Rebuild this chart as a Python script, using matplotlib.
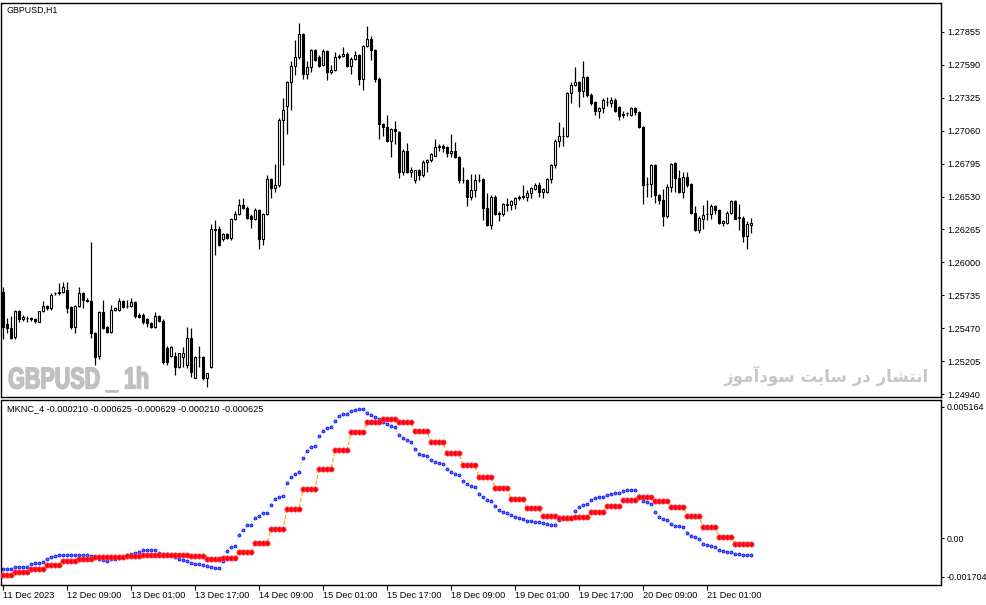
import numpy as np
import matplotlib.pyplot as plt
from matplotlib.patheffects import AbstractPathEffect
from matplotlib.transforms import Affine2D

plt.rcParams["font.family"] = ["Liberation Sans", "DejaVu Sans"]

# GBPUSD H1 bars
opens = [1.2576, 1.2550, 1.2547, 1.2540, 1.2561, 1.2554, 1.2555, 1.2555, 1.2554, 1.2552,
         1.2561, 1.2565, 1.2563, 1.2575, 1.2575, 1.2576, 1.2578, 1.2564, 1.2548, 1.2565,
         1.2575, 1.2570, 1.2569, 1.2543, 1.2525, 1.2560, 1.2548, 1.2544, 1.2562, 1.2562,
         1.2569, 1.2565, 1.2565, 1.2568, 1.2558, 1.2558, 1.2554, 1.2551, 1.2548, 1.2557,
         1.2553, 1.2531, 1.2525, 1.2525, 1.2516, 1.2524, 1.2517, 1.2539, 1.2507, 1.2524,
         1.2524, 1.2507, 1.2516, 1.2626, 1.2627, 1.2619, 1.2623, 1.2620, 1.2635, 1.2639,
         1.2646, 1.2644, 1.2637, 1.2635, 1.2642, 1.2619, 1.2639, 1.2667, 1.2660, 1.2662,
         1.2715, 1.2726, 1.2745, 1.2758, 1.2765, 1.2784, 1.2752, 1.2757, 1.2771, 1.2765,
         1.2759, 1.2770, 1.2753, 1.2755, 1.2765, 1.2766, 1.2768, 1.2758, 1.2764, 1.2767,
         1.2748, 1.2774, 1.2780, 1.2771, 1.2748, 1.2711, 1.2709, 1.2698, 1.2707, 1.2705,
         1.2673, 1.2690, 1.2673, 1.2666, 1.2674, 1.2670, 1.2681, 1.2682, 1.2686, 1.2693,
         1.2694, 1.2693, 1.2688, 1.2690, 1.2685, 1.2666, 1.2666, 1.2653, 1.2658, 1.2666,
         1.2667, 1.2644, 1.2630, 1.2653, 1.2640, 1.2639, 1.2646, 1.2646, 1.2647, 1.2652,
         1.2653, 1.2653, 1.2656, 1.2659, 1.2662, 1.2657, 1.2657, 1.2667, 1.2678, 1.2698,
         1.2702, 1.2702, 1.2736, 1.2743, 1.2745, 1.2738, 1.2749, 1.2735, 1.2729, 1.2722,
         1.2724, 1.2729, 1.2728, 1.2731, 1.2725, 1.2719, 1.2720, 1.2719, 1.2724, 1.2721,
         1.2709, 1.2663, 1.2663, 1.2678, 1.2654, 1.2650, 1.2637, 1.2661, 1.2680, 1.2668,
         1.2657, 1.2669, 1.2663, 1.2640, 1.2626, 1.2635, 1.2639, 1.2639, 1.2645, 1.2642,
         1.2632, 1.2632, 1.2640, 1.2649, 1.2636, 1.2636, 1.2621, 1.2630]
highs = [1.2580, 1.2555, 1.2557, 1.2562, 1.2562, 1.2558, 1.2557, 1.2556, 1.2555, 1.2561,
         1.2569, 1.2566, 1.2575, 1.2576, 1.2583, 1.2584, 1.2584, 1.2565, 1.2566, 1.2580,
         1.2576, 1.2571, 1.2616, 1.2544, 1.2561, 1.2570, 1.2549, 1.2566, 1.2564, 1.2571,
         1.2570, 1.2570, 1.2571, 1.2569, 1.2559, 1.2559, 1.2555, 1.2552, 1.2560, 1.2558,
         1.2554, 1.2533, 1.2533, 1.2528, 1.2527, 1.2532, 1.2548, 1.2547, 1.2525, 1.2533,
         1.2525, 1.2511, 1.2631, 1.2634, 1.2629, 1.2624, 1.2624, 1.2636, 1.2641, 1.2651,
         1.2652, 1.2645, 1.2639, 1.2644, 1.2643, 1.2640, 1.2670, 1.2668, 1.2679, 1.2716,
         1.2732, 1.2746, 1.2762, 1.2779, 1.2793, 1.2785, 1.2762, 1.2772, 1.2772, 1.2767,
         1.2772, 1.2771, 1.2759, 1.2769, 1.2768, 1.2773, 1.2769, 1.2765, 1.2770, 1.2768,
         1.2775, 1.2790, 1.2782, 1.2772, 1.2749, 1.2712, 1.2719, 1.2708, 1.2714, 1.2706,
         1.2691, 1.2696, 1.2677, 1.2674, 1.2675, 1.2682, 1.2683, 1.2688, 1.2699, 1.2695,
         1.2695, 1.2694, 1.2703, 1.2697, 1.2686, 1.2677, 1.2667, 1.2671, 1.2671, 1.2671,
         1.2668, 1.2656, 1.2654, 1.2654, 1.2641, 1.2648, 1.2652, 1.2650, 1.2653, 1.2654,
         1.2662, 1.2658, 1.2661, 1.2664, 1.2665, 1.2660, 1.2668, 1.2679, 1.2699, 1.2713,
         1.2709, 1.2737, 1.2745, 1.2757, 1.2746, 1.2762, 1.2750, 1.2736, 1.2730, 1.2725,
         1.2732, 1.2733, 1.2733, 1.2732, 1.2726, 1.2722, 1.2721, 1.2725, 1.2725, 1.2722,
         1.2710, 1.2669, 1.2679, 1.2679, 1.2655, 1.2659, 1.2663, 1.2680, 1.2681, 1.2674,
         1.2673, 1.2673, 1.2664, 1.2645, 1.2637, 1.2646, 1.2650, 1.2647, 1.2646, 1.2643,
         1.2634, 1.2641, 1.2650, 1.2650, 1.2647, 1.2637, 1.2633, 1.2636]
lows = [1.2538, 1.2543, 1.2538, 1.2538, 1.2552, 1.2553, 1.2552, 1.2553, 1.2551, 1.2552,
        1.2560, 1.2562, 1.2562, 1.2574, 1.2574, 1.2575, 1.2559, 1.2546, 1.2543, 1.2564,
        1.2563, 1.2568, 1.2539, 1.2517, 1.2522, 1.2546, 1.2543, 1.2543, 1.2561, 1.2561,
        1.2563, 1.2563, 1.2564, 1.2555, 1.2555, 1.2550, 1.2548, 1.2547, 1.2547, 1.2552,
        1.2518, 1.2517, 1.2524, 1.2509, 1.2515, 1.2516, 1.2515, 1.2508, 1.2507, 1.2516,
        1.2505, 1.2500, 1.2515, 1.2606, 1.2613, 1.2617, 1.2619, 1.2618, 1.2634, 1.2638,
        1.2643, 1.2635, 1.2628, 1.2634, 1.2611, 1.2614, 1.2638, 1.2652, 1.2657, 1.2661,
        1.2678, 1.2703, 1.2723, 1.2751, 1.2764, 1.2748, 1.2748, 1.2753, 1.2762, 1.2757,
        1.2758, 1.2747, 1.2752, 1.2754, 1.2764, 1.2765, 1.2757, 1.2752, 1.2763, 1.2743,
        1.2739, 1.2773, 1.2763, 1.2745, 1.2699, 1.2702, 1.2697, 1.2685, 1.2695, 1.2668,
        1.2670, 1.2672, 1.2669, 1.2664, 1.2666, 1.2669, 1.2673, 1.2681, 1.2686, 1.2690,
        1.2689, 1.2685, 1.2685, 1.2684, 1.2664, 1.2664, 1.2645, 1.2650, 1.2653, 1.2665,
        1.2634, 1.2629, 1.2627, 1.2638, 1.2633, 1.2637, 1.2641, 1.2642, 1.2643, 1.2650,
        1.2651, 1.2649, 1.2652, 1.2658, 1.2653, 1.2652, 1.2656, 1.2664, 1.2676, 1.2693,
        1.2694, 1.2701, 1.2728, 1.2742, 1.2725, 1.2733, 1.2733, 1.2727, 1.2719, 1.2716,
        1.2720, 1.2726, 1.2725, 1.2721, 1.2715, 1.2716, 1.2718, 1.2718, 1.2719, 1.2708,
        1.2647, 1.2653, 1.2653, 1.2648, 1.2647, 1.2629, 1.2636, 1.2657, 1.2657, 1.2656,
        1.2652, 1.2661, 1.2639, 1.2625, 1.2624, 1.2627, 1.2634, 1.2635, 1.2639, 1.2631,
        1.2629, 1.2631, 1.2639, 1.2635, 1.2626, 1.2616, 1.2611, 1.2624]
closes = [1.2548, 1.2547, 1.2539, 1.2561, 1.2554, 1.2556, 1.2555, 1.2554, 1.2553, 1.2561,
          1.2565, 1.2563, 1.2574, 1.2575, 1.2576, 1.2580, 1.2563, 1.2548, 1.2565, 1.2575,
          1.2570, 1.2569, 1.2543, 1.2524, 1.2560, 1.2547, 1.2544, 1.2562, 1.2563, 1.2569,
          1.2564, 1.2565, 1.2568, 1.2557, 1.2556, 1.2552, 1.2551, 1.2548, 1.2557, 1.2553,
          1.2520, 1.2520, 1.2532, 1.2516, 1.2527, 1.2527, 1.2539, 1.2512, 1.2524, 1.2524,
          1.2507, 1.2511, 1.2627, 1.2627, 1.2614, 1.2623, 1.2620, 1.2635, 1.2639, 1.2646,
          1.2644, 1.2636, 1.2635, 1.2642, 1.2619, 1.2639, 1.2667, 1.2660, 1.2662, 1.2715,
          1.2723, 1.2745, 1.2758, 1.2765, 1.2784, 1.2752, 1.2757, 1.2771, 1.2763, 1.2758,
          1.2770, 1.2753, 1.2755, 1.2765, 1.2766, 1.2768, 1.2758, 1.2764, 1.2767, 1.2748,
          1.2774, 1.2780, 1.2771, 1.2748, 1.2711, 1.2709, 1.2698, 1.2707, 1.2706, 1.2673,
          1.2690, 1.2673, 1.2674, 1.2674, 1.2670, 1.2681, 1.2682, 1.2687, 1.2693, 1.2694,
          1.2692, 1.2688, 1.2690, 1.2685, 1.2666, 1.2666, 1.2653, 1.2658, 1.2666, 1.2666,
          1.2644, 1.2630, 1.2653, 1.2639, 1.2639, 1.2647, 1.2647, 1.2649, 1.2652, 1.2653,
          1.2653, 1.2656, 1.2660, 1.2662, 1.2657, 1.2659, 1.2667, 1.2678, 1.2698, 1.2702,
          1.2702, 1.2736, 1.2743, 1.2745, 1.2738, 1.2749, 1.2735, 1.2728, 1.2722, 1.2724,
          1.2731, 1.2729, 1.2731, 1.2722, 1.2718, 1.2719, 1.2720, 1.2724, 1.2721, 1.2709,
          1.2662, 1.2663, 1.2678, 1.2654, 1.2650, 1.2637, 1.2661, 1.2679, 1.2668, 1.2657,
          1.2669, 1.2662, 1.2640, 1.2626, 1.2636, 1.2638, 1.2639, 1.2645, 1.2642, 1.2632,
          1.2633, 1.2640, 1.2649, 1.2635, 1.2636, 1.2621, 1.2631, 1.2632]

# MKNC_4 indicator: fast line (blue), in units of 1e-6
mknc_fast = [-1142, -1142, -1130, -1080, -1080, -1080, -1080, -943, -918, -918,
             -881, -757, -694, -657, -632, -607, -607, -607, -607, -632,
             -632, -632, -645, -707, -757, -807, -831, -769, -757, -732,
             -707, -607, -570, -545, -520, -445, -421, -421, -445, -545,
             -582, -582, -607, -682, -781, -806, -831, -906, -943, -956,
             -981, -1043, -1080, -1105, -1105, -856, -458, -333, -284, 139,
             326, 488, 513, 762, 836, 936, 948, 1259, 1483, 1545,
             1570, 2056, 2292, 2404, 2479, 3001, 3275, 3412, 3437, 3835,
             4022, 4134, 4171, 4395, 4582, 4644, 4656, 4743, 4806, 4830,
             4818, 4681, 4619, 4532, 4470, 4345, 4270, 4184, 4146, 3872,
             3748, 3661, 3599, 3337, 3163, 3101, 3063, 2939, 2852, 2802,
             2790, 2603, 2479, 2416, 2379, 2155, 2031, 1944, 1906, 1657,
             1545, 1446, 1384, 1197, 1048, 986, 948, 861, 799, 761,
             724, 662, 637, 612, 600, 575, 550, 513, 513, 674,
             786, 799, 811, 1010, 1172, 1259, 1284, 1446, 1508, 1545,
             1558, 1608, 1657, 1695, 1707, 1757, 1794, 1807, 1819, 1595,
             1408, 1359, 1284, 986, 799, 737, 699, 537, 475, 450,
             425, 202, 77, 40, -10, -197, -234, -296, -321, -421,
             -483, -508, -520, -570, -595, -607, -620, -625]
# slow line (red) holds each level for a block of bars
mknc_slow_levels = [-1379, -1254, -1142, -1005, -856, -781, -694, -694, -657, -607,
                    -607, -607, -669, -781, -732, -520, -184, 339, 1097, 1844,
                    2591, 3287, 3959, 4333, 4445, 4333, 3997, 3586, 3175, 2728,
                    2280, 1881, 1471, 1122, 824, 749, 787, 973, 1197, 1421,
                    1533, 1384, 1160, 824, 413, 40, -210]
mknc_slow_bars = [3] + [4] * 45 + [5]

time_labels = ["11 Dec 2023", "12 Dec 09:00", "13 Dec 01:00", "13 Dec 17:00",
               "14 Dec 09:00", "15 Dec 01:00", "15 Dec 17:00", "18 Dec 09:00",
               "19 Dec 01:00", "19 Dec 17:00", "20 Dec 09:00", "21 Dec 01:00"]
price_ticks = [1.27855, 1.27590, 1.27325, 1.27060, 1.26795, 1.26530,
               1.26265, 1.26000, 1.25735, 1.25470, 1.25205, 1.24940]


class Squeeze(AbstractPathEffect):
    """narrow (and thicken) the glyphs horizontally around display x0"""
    def __init__(self, sx, x0, stroke=1.2):
        super().__init__()
        self.sx, self.x0, self.stroke = sx, x0, stroke

    def draw_path(self, renderer, gc, tpath, affine, rgbFace=None):
        t = Affine2D().translate(-self.x0, 0).scale(self.sx, 1).translate(self.x0, 0)
        gc0 = renderer.new_gc()
        gc0.copy_properties(gc)
        gc0.set_linewidth(self.stroke)
        gc0.set_foreground(rgbFace)
        renderer.draw_path(gc0, tpath, affine + t, rgbFace)
        gc0.restore()


o = np.array(opens)
h = np.array(highs)
l = np.array(lows)
c = np.array(closes)
x = np.arange(len(c))
fast = np.array(mknc_fast) * 1e-6
slow = np.repeat(mknc_slow_levels, mknc_slow_bars) * 1e-6

W, H = 987, 605
fig = plt.figure(figsize=(W / 100, H / 100), dpi=100)
ax1 = fig.add_axes([1.5 / W, 1 - 397 / H, 940 / W, 394.5 / H])
ax2 = fig.add_axes([1.5 / W, 1 - 584.5 / H, 940 / W, 185 / H])

for ax in (ax1, ax2):
    ax.set_xlim(-0.375, 234.625)
    for s in ax.spines.values():
        s.set_linewidth(1.0)
        s.set_color("black")
    ax.yaxis.tick_right()
    ax.tick_params(axis="y", length=2.5, width=0.8, pad=2.0, labelsize=6.6)

#  candles
ax1.vlines(x, l, h, color="black", lw=0.9, zorder=2)
body = np.maximum(np.abs(c - o), 0.000012)
face = np.where(c >= o, "white", "black")
ax1.bar(x, body, bottom=np.minimum(o, c), width=0.55, color=face,
        edgecolor="black", linewidth=0.8, zorder=3)
ax1.set_ylim(1.24916, 1.28092)
ax1.set_yticks(price_ticks, [f"{p:.5f}" for p in price_ticks])
ax1.tick_params(axis="x", bottom=False, labelbottom=False)

ax1.text(0.005, 0.979, "GBPUSD,H1", transform=ax1.transAxes, fontsize=6.4,
         va="center", ha="left")
ax1.text(0.0069, 0.022, "GBPUSD _ 1h", transform=ax1.transAxes, fontsize=21.5,
         fontweight="bold", color="#c0c0c0", va="baseline", ha="left",
         path_effects=[Squeeze(0.72, 8.5)])
# "انتشار در سایت سودآموز" in presentation forms, visual order
fa = ("\uFE8D\uFEE7\uFE98\uFEB8\uFE8E\uFEAD \uFEA9\uFEAD \uFEB3\uFE8E\uFEF3\uFE96 "
      "\uFEB3\uFEEE\uFEA9\uFE81\uFEE3\uFEEE\uFEAF")[::-1]
ax1.text(0.986, 0.053, fa, transform=ax1.transAxes, fontsize=12,
         fontweight="bold", color="#c6c6c6", va="center", ha="right",
         family=["DejaVu Sans"])

#  indicator window
ax2.plot(x, fast, color="#87cefa", lw=0.7, ls=":", zorder=1)
ax2.plot(x, fast, "o", ms=2.2, mfc="#5566ff", mec="#0000ff", mew=0.5, zorder=2)
ax2.plot(x, slow, color="orange", lw=0.8, ls="--", zorder=3)
ax2.plot(x, slow, "o", ms=3.8, mfc="#ff0000", mec="#ff4d6d", mew=0.5, zorder=4)
ax2.set_ylim(-0.001721, 0.005185)
ax2.set_yticks([0.004917, 0.0, -0.00143], ["0.005164", "0.00", "-0.001704"])
ax2.tick_params(axis="y", pad=1.0, labelsize=6.4)
ax2.set_xticks(np.arange(0, 177, 16), time_labels, ha="left")
ax2.tick_params(axis="x", length=3.5, width=0.8, pad=1, labelsize=6.6)
ax2.text(0.0062, 0.951, "MKNC_4 -0.000210 -0.000625 -0.000629 -0.000210 -0.000625",
         transform=ax2.transAxes, fontsize=6.6, va="center", ha="left")

fig.savefig("out.png", dpi=100, facecolor="white")
